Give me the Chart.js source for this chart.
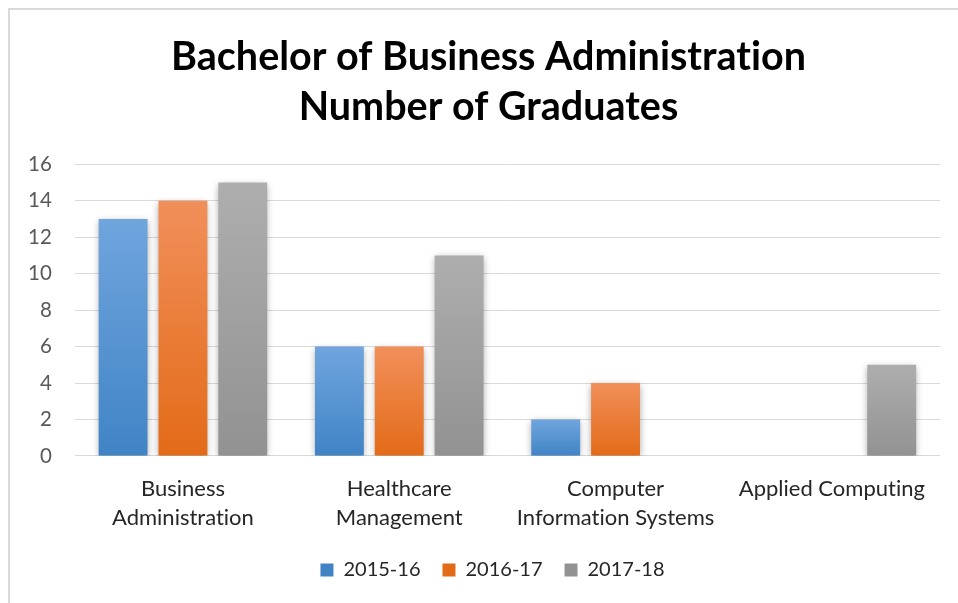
<!DOCTYPE html>
<html>
<head>
<meta charset="utf-8">
<script src="https://cdn.jsdelivr.net/npm/chart.js@4/dist/chart.umd.min.js"></script>
<style>
  html, body { margin: 0; padding: 0; background: #fff; }
  #frame { position: absolute; left: 8px; top: 8px; width: 950px; height: 595px;
           border-left: 2px solid #d9d9d9; border-top: 2px solid #d9d9d9; }
  #wrap { position: absolute; left: 0; top: 0; width: 948px; height: 593px; }
</style>
</head>
<body>
<div id="frame"><div id="wrap"><canvas id="c" width="948" height="593"></canvas></div></div>
<script>
const categories = [["Business", "Administration"], ["Healthcare", "Management"], ["Computer", "Information Systems"], "Applied Computing"];
const seriesNames = ["2015-16", "2016-17", "2017-18"];
const values2015 = [13, 6, 2, null];
const values2016 = [14, 6, 4, null];
const values2017 = [15, 11, null, 5];
const yTicks = [0, 2, 4, 6, 8, 10, 12, 14, 16];
const titleLines = ["Bachelor of Business Administration", "Number of Graduates"];

const palette = [
  { top: "#70A5DD", bottom: "#4084C6", mid: "#5698D6" },
  { top: "#F18F5A", bottom: "#E36B18", mid: "#EF7D33" },
  { top: "#AEAEAE", bottom: "#929292", mid: "#A3A3A3" }
];

function barFill(i) {
  return function (ctx) {
    const c = palette[i];
    if (ctx.type !== "data") return c.mid;
    const chart = ctx.chart;
    const ys = chart.scales && chart.scales.y;
    if (!chart.chartArea || !ys || ctx.raw == null) return c.mid;
    const yTop = ys.getPixelForValue(ctx.raw);
    const yBase = ys.getPixelForValue(0);
    if (!isFinite(yTop) || !isFinite(yBase) || yTop === yBase) return c.mid;
    const g = chart.ctx.createLinearGradient(0, yTop, 0, yBase);
    g.addColorStop(0, c.top);
    g.addColorStop(1, c.bottom);
    return g;
  };
}

const textPlugin = {
  id: "noLigatures",
  beforeInit(chart) { try { chart.ctx.textRendering = "optimizeSpeed"; } catch (e) {} },
  beforeUpdate(chart) { try { chart.ctx.textRendering = "optimizeSpeed"; } catch (e) {} },
  beforeDraw(chart) { try { chart.ctx.textRendering = "optimizeSpeed"; } catch (e) {} }
};

// Centre the title and legend the way the source chart does (offset to the right of the full box)
const centerPlugin = {
  id: "centerBlocks",
  afterLayout(chart) {
    const t = chart.titleBlock;
    if (t) { t.left += 16; t.right += 16; }
    const l = chart.legend;
    if (l) { l.left += 20; l.right += 20; }
  }
};

const shadowPlugin = {
  id: "barShadow",
  beforeDatasetsDraw(chart) {
    const ctx = chart.ctx;
    ctx.save();
    ctx.shadowColor = "rgba(0,0,0,0.35)";
    ctx.shadowBlur = 7;
    ctx.shadowOffsetX = 0;
    ctx.shadowOffsetY = 2;
  },
  afterDatasetsDraw(chart) {
    chart.ctx.restore();
  }
};

const FONT = "Lato, 'Open Sans', sans-serif";
const series = [values2015, values2016, values2017];

new Chart(document.getElementById("c"), {
  type: "bar",
  data: {
    labels: categories,
    datasets: series.map((vals, i) => ({
      label: seriesNames[i],
      data: vals,
      backgroundColor: barFill(i),
      borderWidth: 0,
      categoryPercentage: 0.83,
      barPercentage: 0.817
    }))
  },
  plugins: [textPlugin, centerPlugin, shadowPlugin],
  options: {
    responsive: false,
    animation: false,
    devicePixelRatio: 1,
    layout: { padding: { left: -5, right: 18, top: 0, bottom: 13 } },
    plugins: {
      title: {
        display: true,
        text: titleLines,
        color: "#000",
        font: { family: FONT, size: 39.5, weight: "bold", lineHeight: 1.27 },
        padding: { top: 22, bottom: 32 }
      },
      legend: {
        position: "bottom",
        labels: {
          color: "#262626",
          font: { family: FONT, size: 20 },
          boxWidth: 13,
          boxHeight: 13,
          padding: 22
        }
      },
      tooltip: { enabled: false }
    },
    scales: {
      x: {
        grid: { display: false, drawTicks: false },
        border: { display: false },
        afterFit(scale) { scale.height = scale.height - 12; },
        ticks: {
          color: "#262626",
          font: { family: FONT, size: 22, lineHeight: 1.32 },
          padding: 18,
          maxRotation: 0,
          autoSkip: false
        }
      },
      y: {
        min: yTicks[0],
        max: yTicks[yTicks.length - 1],
        afterBuildTicks(scale) { scale.ticks = yTicks.map(v => ({ value: v })); },
        grid: { color: "#d9d9d9", lineWidth: 1, drawTicks: false },
        border: { display: false },
        ticks: {
          color: "#595959",
          font: { family: FONT, size: 20.5 },
          padding: 23
        }
      }
    }
  }
});
</script>
</body>
</html>
